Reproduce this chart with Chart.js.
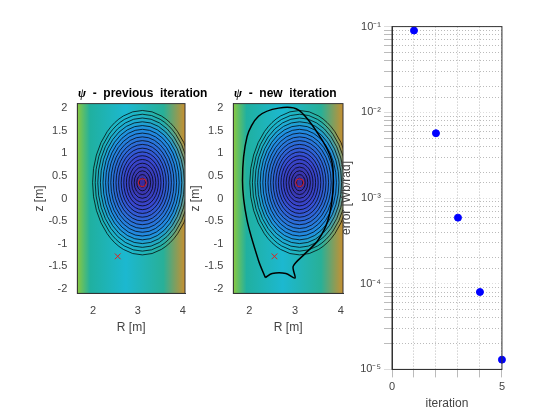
<!DOCTYPE html>
<html><head><meta charset="utf-8">
<script src="https://cdn.jsdelivr.net/npm/chart.js@4"></script>
<style>body{margin:0;background:#fff;width:549px;height:407px;position:relative;overflow:hidden;font-family:Arial,"Liberation Sans",sans-serif}
.c{position:absolute}
.t{position:absolute;font-weight:bold;font-size:12px;color:#000;white-space:nowrap}
</style></head><body>
<div class="c" style="left:32px;top:95px;width:161px;height:240px"><canvas id="a"></canvas></div>
<div class="c" style="left:188px;top:95px;width:163px;height:240px"><canvas id="b"></canvas></div>
<div class="c" style="left:335px;top:17px;width:173px;height:390px"><canvas id="e"></canvas></div>
<div class="t" style="left:78px;top:86px"><i style="font-family:serif">ψ</i> &nbsp;- &nbsp;previous &nbsp;iteration</div>
<div class="t" style="left:234px;top:86px"><i style="font-family:serif">ψ</i> &nbsp;- &nbsp;new &nbsp;iteration</div>
<script>
const iterations=[1,2,3,4,5];
const errors=[0.09,0.0057,0.00059,0.00008,0.000013];
const axisO=[{x:3.1,y:0.35}];
const xPoint=[{x:2.55,y:-1.28}];
const sepR=[2.35,2.2,1.95,1.85,1.95,2.2,2.64,3.07,3.5,3.8,3.83,3.72,3.5,3.22,2.96,3.0,2.8,2.5,2.35];
const sepZ=[-1.75,-1.37,-0.48,0.4,1.37,1.82,2.0,1.96,1.44,0.85,0.18,-0.48,-0.93,-1.22,-1.5,-1.76,-1.66,-1.66,-1.75];
const rTicks=[2,3,4], zTicks=[-2,-1.5,-1,-0.5,0,0.5,1,1.5,2];
Chart.defaults.font.family='Arial, "Liberation Sans", sans-serif';
Chart.defaults.color='#444';
const frame={id:'frame',afterDraw(c){const {ctx,chartArea:a}=c;ctx.save();ctx.strokeStyle='#333';ctx.lineWidth=1;ctx.strokeRect(a.left,a.top,a.width,a.height);ctx.restore();}};
const bg={id:'bg',beforeDatasetsDraw(c){const {ctx,chartArea:a,scales:{x,y}}=c;ctx.save();
 ctx.beginPath();ctx.rect(a.left,a.top,a.width,a.height);ctx.clip();
 let lg=ctx.createLinearGradient(a.left,0,a.right,0);lg.addColorStop(0,'#8ac840');lg.addColorStop(0.12,'#20b0a0');lg.addColorStop(0.45,'#1cb8d0');lg.addColorStop(0.8,'#28b098');lg.addColorStop(1,'#c89030');
 ctx.fillStyle=lg;ctx.fillRect(a.left,a.top,a.width,a.height);
 const cx=x.getPixelForValue(3.1),cy=y.getPixelForValue(0.35);
 ctx.translate(cx,cy);ctx.scale(1,1.45);
 let rg=ctx.createRadialGradient(0,0,0,0,0,50);rg.addColorStop(0,'#3a2a9a');rg.addColorStop(0.35,'#3848d0');rg.addColorStop(0.75,'#2090e0');rg.addColorStop(1,'rgba(28,184,208,0)');
 ctx.fillStyle=rg;ctx.beginPath();ctx.arc(0,0,50,0,7);ctx.fill();
 ctx.strokeStyle='#000';ctx.lineWidth=0.6;
 for(let r=3;r<52;r+=2.6){ctx.beginPath();ctx.ellipse(0,0,r,r,0,0,7);ctx.stroke();}
 ctx.restore();}};
function pane(id,withSep){
 const ds=[{data:axisO,pointStyle:'circle',radius:4,borderColor:'#e02020',backgroundColor:'transparent',borderWidth:1,showLine:false},
 {data:xPoint,pointStyle:'crossRot',radius:4,borderColor:'#e02020',borderWidth:1,showLine:false}];
 if(withSep)ds.push({data:sepR.map((r,i)=>({x:r,y:sepZ[i]})),showLine:true,borderColor:'#000',borderWidth:1.5,pointRadius:0,tension:0.3});
 new Chart(document.getElementById(id),{type:'scatter',data:{datasets:ds},plugins:[bg,frame],
 options:{responsive:true,maintainAspectRatio:false,animation:false,plugins:{legend:{display:false},tooltip:{enabled:false}},
 layout:{padding:{top:8,right:8}},
 scales:{x:{min:1.65,max:4.05,afterBuildTicks:s=>{s.ticks=rTicks.map(v=>({value:v}))},grid:{display:false},border:{color:'#333'},
   title:{display:true,text:'R [m]',font:{size:12},padding:0},ticks:{font:{size:11},callback:v=>String(v)}},
  y:{min:-2.1,max:2.1,afterBuildTicks:s=>{s.ticks=zTicks.map(v=>({value:v}))},grid:{display:false},border:{color:'#333'},
   title:{display:true,text:'z [m]',font:{size:12},padding:0},ticks:{font:{size:11},padding:2,callback:v=>String(v)}}}}});
}
pane('a',false);pane('b',true);
const sup={'-1':'⁻¹','-2':'⁻²','-3':'⁻³','-4':'⁻⁴','-5':'⁻⁵'};
const isDec=v=>{const l=Math.log10(v);return Math.abs(l-Math.round(l))<1e-9};
new Chart(document.getElementById('e'),{type:'scatter',data:{datasets:[{data:iterations.map((v,i)=>({x:v,y:errors[i]})),backgroundColor:'#0000ff',borderColor:'#0000ff',radius:3.5}]},
 plugins:[frame],
 options:{responsive:true,maintainAspectRatio:false,animation:false,clip:false,plugins:{legend:{display:false},tooltip:{enabled:false}},
 layout:{padding:{top:6,right:6,bottom:-4}},
 scales:{x:{min:0,max:5,ticks:{stepSize:1,font:{size:11},callback:v=>(v===0||v===5)?v:''},grid:{color:'#bbb'},border:{color:'#333',dash:[1,2]},
   title:{display:true,text:'iteration',font:{size:12},padding:0}},
  y:{type:'logarithmic',min:1e-5,max:1e-1,border:{color:'#333',dash:[1,2]},afterFit:s=>{s.width=57},
   ticks:{font:{size:11},autoSkip:false,padding:3,callback:v=>isDec(v)?'10'+sup[String(Math.round(Math.log10(v)))]:''},
   grid:{color:c=>isDec(c.tick.value)?'#ddd':'#bbb'},
   title:{display:true,text:'error [Wb/rad]',font:{size:12},padding:4}}}}});
</script></body></html>
